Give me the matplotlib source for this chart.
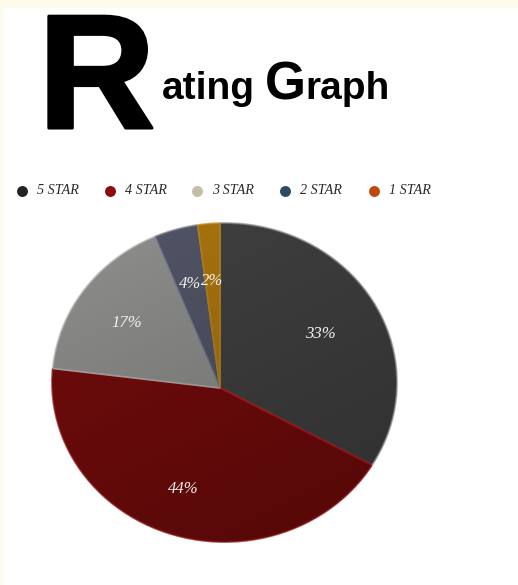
import numpy as np
import matplotlib
matplotlib.use('Agg')
import matplotlib.pyplot as plt
import matplotlib.patheffects as pe
from matplotlib.patches import Ellipse, Rectangle

labels = ['5 STAR', '4 STAR', '3 STAR', '2 STAR', '1 STAR']
values = [33, 44, 17, 4, 2]
pct_labels = ['33%', '44%', '17%', '4%', '2%']
legend_colors = ['#232323', '#8e0a0c', '#c6bda6', '#2f4a60', '#bd4a0c']
slice_colors = ['#444444', '#7a0c0c', '#969694', '#565a6c', '#b57c10']
edge_colors = ['#8a8a8a', '#c8141a', '#b5b5b2', '#7f8391', '#c08a20']
rim_colors = ['#8a8a8a', '#8a1013', '#b5b5b2', '#7f8391', '#c08a20']
legend_x = [22, 110, 197, 285, 374]
label_pos = [(320, 334), (183, 489), (127, 323), (190, 284), (212, 281)]

W, H = 518, 585
CREAM = '#fffbea'

fig = plt.figure(figsize=(W / 100, H / 100), dpi=100, facecolor=CREAM)
fig.add_artist(Rectangle((3 / W, 0), 1, 1 - 8 / H, transform=fig.transFigure, fc='white', ec='none', zorder=-5))

# the pie is squashed and its apex is off the middle, so wedges are
# drawn too big around the apex and cut down by an ellipse
rx, ry = 172.5, 159.5
ax = fig.add_axes([0, 0, 1, 1])
wedges, _ = ax.pie(values, colors=slice_colors, startangle=90, counterclock=False, radius=1.6,
                   center=(220 / rx, (H - 388) / ry), wedgeprops={'linewidth': 1.2})
ax.set_aspect('auto')
ax.set_xlim(0, W / rx)
ax.set_ylim(0, H / ry)
ax.axis('off')

ell_xy = (224.5 / rx, (H - 382.5) / ry)
outline = Ellipse(ell_xy, 2, 2, fc='none', ec='none')
ax.add_patch(outline)
for w, edge, rim_c in zip(wedges, edge_colors, rim_colors):
    w.set_edgecolor(edge)
    w.set_clip_on(True)  # pie turns clipping off
    w.set_clip_path(outline)
    rim = Ellipse(ell_xy, 2, 2, fc='none', ec=rim_c, lw=1.3, alpha=0.7, zorder=4)
    ax.add_patch(rim)
    rim.set_clip_path(w)

# soft shading, darker towards the bottom right
gy, gx = np.mgrid[0:1:128j, 0:1:128j]
shade = np.zeros((128, 128, 4))
shade[..., 3] = 0.05 + 0.26 * (0.35 * gx + 0.65 * gy)
im = ax.imshow(shade, extent=(ell_xy[0] - 1, ell_xy[0] + 1, ell_xy[1] - 1, ell_xy[1] + 1),
               origin='upper', aspect='auto', zorder=3)
im.set_clip_path(outline)
ax.set_xlim(0, W / rx)
ax.set_ylim(0, H / ry)

# page coordinates, same as image pixels
page = fig.add_axes([0, 0, 1, 1])
page.set_xlim(0, W)
page.set_ylim(H, 0)
page.axis('off')

page.text(38, 128, 'R', fontsize=117, fontweight='bold', family='Liberation Sans', color='black',
          va='baseline', ha='left', path_effects=[pe.withStroke(linewidth=2.2, foreground='black')])
page.text(162, 99, 'ating', fontsize=28, fontweight='bold', family='Liberation Sans',
          color='black', va='baseline')
page.text(265, 99, 'G', fontsize=38, fontweight='bold', family='Liberation Sans',
          color='black', va='baseline')
page.text(305, 99, 'raph', fontsize=28, fontweight='bold', family='Liberation Sans',
          color='black', va='baseline')

for x, lab, c in zip(legend_x, labels, legend_colors):
    page.scatter([x], [190.5], s=62, color=c, linewidths=0, zorder=3)
    page.text(x + 15, 190.5, lab, fontsize=10.2, style='italic', family='Liberation Serif',
              color='#2b2b2b', va='center', ha='left')

for (x, y), t in zip(label_pos, pct_labels):
    page.text(x, y, t, fontsize=12, style='italic', family='Liberation Serif', color='#f4f2ee',
              ha='center', va='center')

fig.savefig('out.png', dpi=100, facecolor=CREAM)
